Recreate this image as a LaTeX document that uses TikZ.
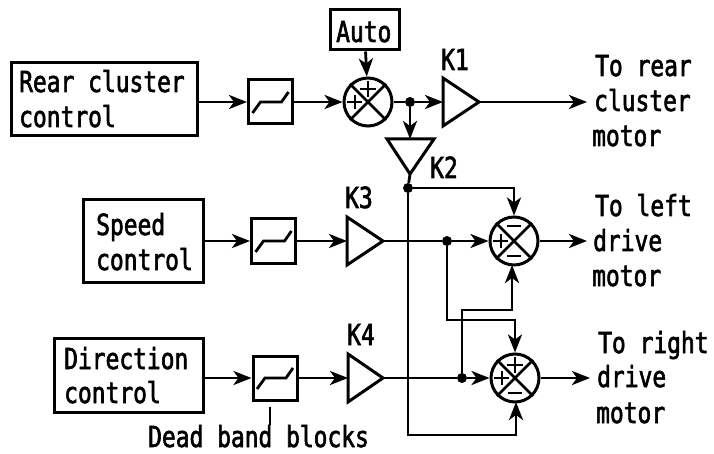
\documentclass[tikz,border=0pt]{standalone}
\usepackage{fontspec}
\newfontfamily\gothicfont[FakeStretch=0.79,FakeBold=2]{DejaVu Sans Mono}
\usetikzlibrary{arrows.meta,positioning,calc}
\tikzset{
  lbl/.style={font=\gothicfont\fontsize{29}{34}\selectfont, inner sep=0pt, anchor=base west},
  block/.style={draw, line width=3pt, minimum width=44pt, minimum height=44pt, inner sep=0pt},
  ctrl/.style={draw, line width=3pt, inner sep=0pt},
  summer/.style={draw, circle, line width=3pt, minimum size=48pt, inner sep=0pt},
  conn/.style={line width=2.8pt},
  sig/.style={conn, -{Stealth[length=18pt,width=14pt,inset=5pt]}},
  dot/.style={circle, fill, minimum size=10pt, inner sep=0pt},
  gain/.style={line width=3pt, line join=miter}
}
\begin{document}
\begin{tikzpicture}[x=1pt,y=-1pt]
    \useasboundingbox (0,0) rectangle (714,454);
    % input boxes
    \node[ctrl, minimum width=186pt, minimum height=73pt] (rear) at (104,99.5) {};
    \node[ctrl, minimum width=120pt, minimum height=82pt] (speed) at (143,241) {};
    \node[ctrl, minimum width=149pt, minimum height=74pt] (dir) at (128.5,375) {};
    \node[ctrl, minimum width=69pt, minimum height=40pt] (auto) at (364.5,30) {};
    \node[lbl] (reart) at (19,92) {Rear cluster};
    \node[lbl] (rearb) at (19,127) {control};
    \node[lbl] (speedt) at (96,235) {Speed};
    \node[lbl] (speedb) at (96,270) {control};
    \node[lbl] (dirt) at (64,369) {Direction};
    \node[lbl] (dirb) at (64,403) {control};
    \node[lbl] (autot) at (336,42) {Auto};
    % dead band blocks
    \node[block] (db1) at (270.5,102) {};
    \node[block] (db2) at (273.5,241) {};
    \node[block] (db3) at (275,378) {};
    \foreach \b in {db1,db2,db3}
      \draw[conn] ($(\b)+(-18,11)$) -- ($(\b)+(-10,0)$) -- ($(\b)+(11,0)$) -- ($(\b)+(18,-10)$);
    % summers
    \node[summer] (s1) at (368,102) {};
    \node[summer] (s2) at (514,241) {};
    \node[summer] (s3) at (515,378) {};
    \foreach \s in {s1,s2,s3} {
      \draw[conn] (\s.45) -- (\s.225);
      \draw[conn] (\s.135) -- (\s.315);
    }
    \foreach \s in {s1,s2,s3}
      \draw[conn] ($(\s)+(-21,0)$) -- ($(\s)+(-6,0)$) ($(\s)+(-13,-7)$) -- ($(\s)+(-13,7)$);
    \draw[conn] ($(s1)+(-8,-13)$) -- ($(s1)+(8,-13)$) ($(s1)+(0,-21)$) -- ($(s1)+(0,-5)$);
    \draw[conn] ($(s3)+(-8,-13)$) -- ($(s3)+(8,-13)$) ($(s3)+(0,-21)$) -- ($(s3)+(0,-5)$);
    \draw[conn] ($(s2)+(-7,-15)$) -- ($(s2)+(7,-15)$);
    \draw[conn] ($(s2)+(-7,15)$) -- ($(s2)+(7,15)$);
    \draw[conn] ($(s3)+(-7,15)$) -- ($(s3)+(7,15)$);
    % gains
    \coordinate (k1in) at (443,102);
    \coordinate (k1out) at (479,102);
    \draw[gain] (443,78) -- (k1out) -- (443,126) -- cycle;
    \coordinate (k2in) at (410,139);
    \coordinate (k2out) at (410,174);
    \draw[gain] (387,139) -- (434,139) -- (k2out) -- cycle;
    \coordinate (k3in) at (347,241);
    \coordinate (k3out) at (383,241);
    \draw[gain] (347,217) -- (k3out) -- (347,265) -- cycle;
    \coordinate (k4in) at (348,378);
    \coordinate (k4out) at (383,378);
    \draw[gain] (348,354) -- (k4out) -- (348,402) -- cycle;
    \node[lbl] (k1) at (441,70) {K1};
    \node[lbl] (k2) at (430,178) {K2};
    \node[lbl] (k3) at (345,208) {K3};
    \node[lbl] (k4) at (347,345) {K4};
    % junctions
    \node[dot] (j1) at (410,102) {};
    \node[dot] (j2) at (408,188) {};
    \node[dot] (j3) at (447,241) {};
    \node[dot] (j4) at (462,378) {};
    % top row
    \draw[sig] (rear.east |- db1) -- (db1);
    \draw[sig] (db1) -- (s1);
    \draw[sig] (auto) -- (s1);
    \draw[conn] (s1) -- (j1);
    \draw[sig] (j1) -- (k1in);
    \draw[sig] (j1) -- (k2in);
    % outputs
    \node[lbl] (o1a) at (595,76) {To rear};
    \node[lbl] (o1b) at (594,111) {cluster};
    \node[lbl] (o1c) at (592,146) {motor};
    \node[lbl] (o2a) at (595,216) {To left};
    \node[lbl] (o2b) at (593,251) {drive};
    \node[lbl] (o2c) at (592,286) {motor};
    \node[lbl] (o3a) at (598,353) {To right};
    \node[lbl] (o3b) at (597,387) {drive};
    \node[lbl] (o3c) at (596,423) {motor};
    \coordinate (o1) at (587,102);
    \coordinate (o2) at (587,241);
    \coordinate (o3) at (590,378);
    \draw[sig] (k1out) -- (o1);
    \draw[sig] (s2) -- (o2);
    \draw[sig] (s3) -- (o3);
    % middle and bottom rows
    \draw[sig] (speed.east |- db2) -- (db2);
    \draw[sig] (db2) -- (k3in);
    \draw[sig] (dir.east |- db3) -- (db3);
    \draw[sig] (db3) -- (k4in);
    \draw[conn] (k3out) -- (j3);
    \draw[sig] (j3) -- (s2);
    \draw[conn] (k4out) -- (j4);
    \draw[sig] (j4) -- (s3);
    % cross links
    \draw[conn] (k2out) -- (j2);
    \draw[sig] (j2) -| (s2);
    \draw[sig] (j3) |- (515,320) -- (s3);
    \draw[sig] (j4) |- (512,310) -- (512,265);
    \draw[sig] (j2) |- (516,435) -- (516,402);
    % note
    \node[lbl] (dbt) at (148,447) {Dead band blocks};
    \coordinate (dbm) at (270,407);
    \draw[conn] (dbm) -- ++(0,18);
\end{tikzpicture}
\end{document}
